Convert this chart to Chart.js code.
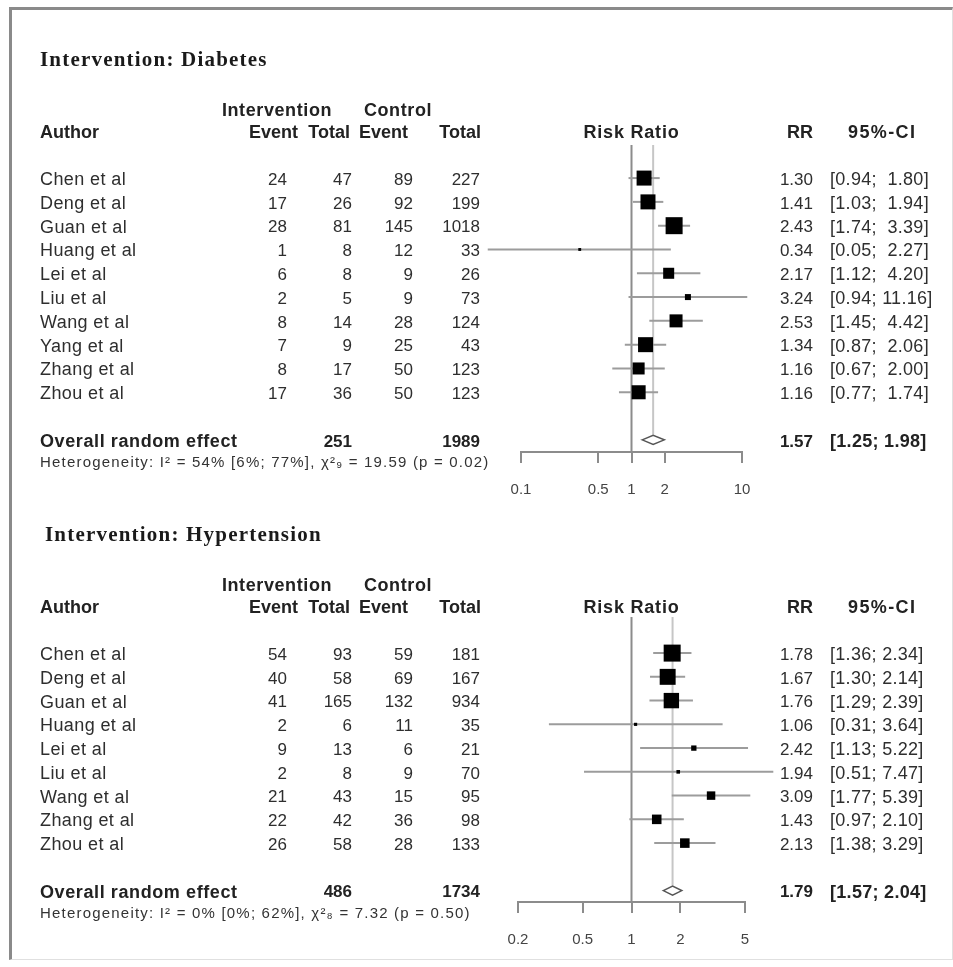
<!DOCTYPE html>
<html>
<head>
<meta charset="utf-8">
<script src="https://cdn.jsdelivr.net/npm/chart.js@4/dist/chart.umd.min.js"></script>
<style>
  html, body { margin: 0; padding: 0; background: #fff; }
  #wrap { position: relative; width: 953px; height: 967px; overflow: hidden; }
  #frame { position: absolute; left: 9px; top: 7px; width: 940px; height: 949px;
           border-left: 3px solid #8a8a8a; border-top: 3px solid #8a8a8a;
           border-right: 1px solid #e0e0e0; border-bottom: 1px solid #e0e0e0; }
  canvas { position: absolute; left: 0; }
</style>
</head>
<body>
<div id="wrap">
  <div id="frame"></div>
  <canvas id="diabetes" width="953" height="505" style="top:0"></canvas>
  <canvas id="hypertension" width="953" height="462" style="top:505px"></canvas>
</div>
<script>
// ---- Diabetes ----
const diabetesAuthors = ['Chen et al', 'Deng et al', 'Guan et al', 'Huang et al', 'Lei et al',
  'Liu et al', 'Wang et al', 'Yang et al', 'Zhang et al', 'Zhou et al'];
const diabetesIntEvent = [24, 17, 28, 1, 6, 2, 8, 7, 8, 17];
const diabetesIntTotal = [47, 26, 81, 8, 8, 5, 14, 9, 17, 36];
const diabetesCtrlEvent = [89, 92, 145, 12, 9, 9, 28, 25, 50, 50];
const diabetesCtrlTotal = [227, 199, 1018, 33, 26, 73, 124, 43, 123, 123];
const diabetesRR = [1.30, 1.41, 2.43, 0.34, 2.17, 3.24, 2.53, 1.34, 1.16, 1.16];
const diabetesLower = [0.94, 1.03, 1.74, 0.05, 1.12, 0.94, 1.45, 0.87, 0.67, 0.77];
const diabetesUpper = [1.80, 1.94, 3.39, 2.27, 4.20, 11.16, 4.42, 2.06, 2.00, 1.74];
const diabetesWeights = [13.7, 13.7, 17.6, 0.5, 7.4, 2.2, 10.3, 13.7, 8.8, 12.0];
const diabetesOverall = [1.57, 1.25, 1.98];
const diabetesTotals = [251, 1989];
const diabetesTicks = [0.1, 0.5, 1, 2, 10];
const diabetesHet = 'Heterogeneity: I² = 54% [6%; 77%], χ²₉ = 19.59 (p = 0.02)';

// ---- Hypertension ----
const hyperAuthors = ['Chen et al', 'Deng et al', 'Guan et al', 'Huang et al', 'Lei et al',
  'Liu et al', 'Wang et al', 'Zhang et al', 'Zhou et al'];
const hyperIntEvent = [54, 40, 41, 2, 9, 2, 21, 22, 26];
const hyperIntTotal = [93, 58, 165, 6, 13, 8, 43, 42, 58];
const hyperCtrlEvent = [59, 69, 132, 11, 6, 9, 15, 36, 28];
const hyperCtrlTotal = [181, 167, 934, 35, 21, 70, 95, 98, 133];
const hyperRR = [1.78, 1.67, 1.76, 1.06, 2.42, 1.94, 3.09, 1.43, 2.13];
const hyperLower = [1.36, 1.30, 1.29, 0.31, 1.13, 0.51, 1.77, 0.97, 1.38];
const hyperUpper = [2.34, 2.14, 2.39, 3.64, 5.22, 7.47, 5.39, 2.10, 3.29];
const hyperWeights = [26.6, 23.4, 21.8, 0.9, 2.6, 1.2, 6.6, 8.4, 8.4];
const hyperOverall = [1.79, 1.57, 2.04];
const hyperTotals = [486, 1734];
const hyperTicks = [0.2, 0.5, 1, 2, 5];
const hyperHet = 'Heterogeneity: I² = 0% [0%; 62%], χ²₈ = 7.32 (p = 0.50)';

const SANS = "'Liberation Sans', Arial, sans-serif";
const SERIF = "'Liberation Serif', 'Times New Roman', serif";
const f2 = v => v.toFixed(2);

function forestDecor(s) {
  // pad upper CI bound so the closing brackets line up (like R's meta)
  const hiWidth = Math.max(...s.upper.map(v => f2(v).length));
  const ci = (lo, hi) => '[' + f2(lo) + '; ' + ' '.repeat(hiWidth - f2(hi).length) + f2(hi) + ']';

  return {
    id: 'forestDecor',
    beforeDatasetsDraw(chart) {
      const { ctx, chartArea: { top, bottom }, scales: { x, y } } = chart;
      const seg = (x1, y1, x2, y2) => { ctx.beginPath(); ctx.moveTo(x1, y1); ctx.lineTo(x2, y2); ctx.stroke(); };
      ctx.save();
      ctx.lineWidth = 2;
      // no-effect line
      ctx.strokeStyle = '#8c8c8c';
      seg(x.getPixelForValue(1), top, x.getPixelForValue(1), bottom);
      // pooled estimate line
      const oy = y.getPixelForValue(s.overallRow);
      ctx.strokeStyle = '#c6c6c6';
      seg(x.getPixelForValue(s.overall[0]), top, x.getPixelForValue(s.overall[0]), oy - 5);
      // confidence intervals
      ctx.strokeStyle = '#9c9c9c';
      s.lower.forEach((lo, i) => {
        const py = y.getPixelForValue(i);
        seg(x.getPixelForValue(lo), py, x.getPixelForValue(s.upper[i]), py);
      });
      ctx.restore();
    },
    afterDatasetsDraw(chart) {
      const { ctx, scales: { x, y } } = chart;
      const oy = y.getPixelForValue(s.overallRow);
      const [est, lo, hi] = s.overall;
      ctx.save();
      ctx.beginPath();
      ctx.moveTo(x.getPixelForValue(lo), oy);
      ctx.lineTo(x.getPixelForValue(est), oy - 4.5);
      ctx.lineTo(x.getPixelForValue(hi), oy);
      ctx.lineTo(x.getPixelForValue(est), oy + 4.5);
      ctx.closePath();
      ctx.fillStyle = '#fff';
      ctx.fill();
      ctx.strokeStyle = '#555';
      ctx.lineWidth = 1.5;
      ctx.stroke();
      ctx.restore();
    },
    afterDraw(chart) {
      const { ctx, scales: { x, y } } = chart;
      const txt = (str, tx, ty, align, font, color, spacing) => {
        ctx.font = font;
        ctx.letterSpacing = (spacing || 0) + 'px';
        ctx.fillStyle = color || '#222';
        ctx.textAlign = align;
        ctx.textBaseline = 'middle';
        ctx.fillText(str, tx, ty);
      };
      const reg = '17px ' + SANS, wide = '18px ' + SANS, bold = 'bold 18px ' + SANS;
      const r0 = y.getPixelForValue(0);
      ctx.save();
      txt(s.title, s.titleX, r0 - 118, 'left', 'bold 21px ' + SERIF, '#1a1a1a', 1.2);
      // headers
      txt('Intervention', 277, r0 - 67, 'center', bold, null, 0.6);
      txt('Control', 398, r0 - 67, 'center', bold, null, 0.6);
      txt('Author', 40, r0 - 45, 'left', bold);
      ['Event', 'Total', 'Event', 'Total'].forEach((h, k) => txt(h, s.headRight[k], r0 - 45, 'right', bold));
      txt('Risk Ratio', x.getPixelForValue(1), r0 - 45, 'center', bold, null, 0.8);
      txt('RR', 813, r0 - 45, 'right', bold);
      txt('95%-CI', 848, r0 - 45, 'left', bold, null, 1.4);
      // study rows
      s.authors.forEach((a, i) => {
        const py = y.getPixelForValue(i) + 2;
        txt(a, 40, py, 'left', wide, '#2e2e2e', 0.4);
        [s.intEvent[i], s.intTotal[i], s.ctrlEvent[i], s.ctrlTotal[i]]
          .forEach((v, k) => txt(String(v), s.colRight[k], py, 'right', reg, '#2e2e2e'));
        txt(f2(s.rr[i]), 813, py, 'right', reg, '#2e2e2e');
        txt(ci(s.lower[i], s.upper[i]), 830, py, 'left', wide, '#2e2e2e', 0.3);
      });
      // pooled row
      const oy = y.getPixelForValue(s.overallRow) + 2;
      txt('Overall random effect', 40, oy, 'left', bold, null, 0.6);
      txt(String(s.totals[0]), s.colRight[1], oy, 'right', 'bold 17px ' + SANS);
      txt(String(s.totals[1]), s.colRight[3], oy, 'right', 'bold 17px ' + SANS);
      txt(f2(s.overall[0]), 813, oy, 'right', 'bold 17px ' + SANS);
      txt('[' + f2(s.overall[1]) + '; ' + f2(s.overall[2]) + ']', 830, oy, 'left', bold, null, 0.3);
      txt(s.het, 40, oy + 21, 'left', '15px ' + SANS, '#333', 1.2);
      ctx.restore();
    }
  };
}

function forest(canvasId, s) {
  const maxW = Math.max(...s.weights);
  return new Chart(document.getElementById(canvasId), {
    type: 'scatter',
    data: {
      datasets: [{
        data: s.rr.map((v, i) => ({ x: v, y: i })),
        pointStyle: 'rect',
        // square side proportional to sqrt(weight); rect side = radius * sqrt(2)
        pointRadius: s.weights.map(w => 17 * Math.sqrt(w / maxW) / Math.SQRT2),
        backgroundColor: '#000',
        borderWidth: 0,
        clip: false
      }]
    },
    options: {
      responsive: false,
      animation: false,
      events: [],
      layout: { padding: s.padding },
      scales: {
        x: {
          type: 'logarithmic',
          min: s.ticks[0],
          max: s.ticks[s.ticks.length - 1],
          afterBuildTicks: sc => { sc.ticks = s.ticks.map(v => ({ value: v })); },
          afterFit: sc => { sc.height = 45; },
          ticks: {
            callback: v => String(v),
            autoSkip: false,
            maxRotation: 0,
            padding: 18,
            color: '#444',
            font: { family: SANS, size: 15 }
          },
          grid: { drawOnChartArea: false, drawTicks: true, tickLength: 11, color: '#8c8c8c', lineWidth: 2 },
          border: { display: true, color: '#8c8c8c', width: 2 }
        },
        y: { display: false, reverse: true, min: s.yRange[0], max: s.yRange[1] }
      },
      plugins: { legend: { display: false }, tooltip: { enabled: false } }
    },
    plugins: [forestDecor(s)]
  });
}

forest('diabetes', {
  title: 'Intervention: Diabetes', titleX: 40,
  authors: diabetesAuthors, intEvent: diabetesIntEvent, intTotal: diabetesIntTotal,
  ctrlEvent: diabetesCtrlEvent, ctrlTotal: diabetesCtrlTotal,
  rr: diabetesRR, lower: diabetesLower, upper: diabetesUpper, weights: diabetesWeights,
  overall: diabetesOverall, totals: diabetesTotals, ticks: diabetesTicks, het: diabetesHet,
  overallRow: 11, yRange: [-1.39, 11.51],
  colRight: [287, 352, 413, 480], headRight: [298, 350, 408, 481],
  padding: { left: 521, right: 211, top: 145, bottom: 8 }
});

forest('hypertension', {
  title: 'Intervention: Hypertension', titleX: 45,
  authors: hyperAuthors, intEvent: hyperIntEvent, intTotal: hyperIntTotal,
  ctrlEvent: hyperCtrlEvent, ctrlTotal: hyperCtrlTotal,
  rr: hyperRR, lower: hyperLower, upper: hyperUpper, weights: hyperWeights,
  overall: hyperOverall, totals: hyperTotals, ticks: hyperTicks, het: hyperHet,
  overallRow: 10, yRange: [-1.52, 10.48],
  colRight: [287, 352, 413, 480], headRight: [298, 350, 408, 481],
  padding: { left: 518, right: 208, top: 112, bottom: 20 }
});
</script>
</body>
</html>
